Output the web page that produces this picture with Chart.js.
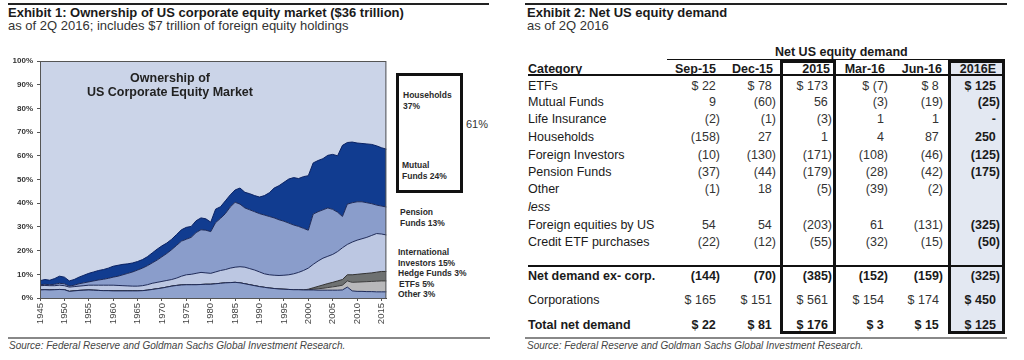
<!DOCTYPE html>
<html>
<head>
<meta charset="utf-8">
<script src="https://cdn.jsdelivr.net/npm/chart.js@4.4.1/dist/chart.umd.min.js"></script>
<style>
  body { margin: 0; width: 1024px; height: 360px; background: #fff; position: relative; overflow: hidden;
         font-family: "Liberation Sans", Arial, sans-serif; color: #1a1a1a; }
  .t { position: absolute; white-space: nowrap; line-height: 1; }
  .b { font-weight: bold; }
  .rule { position: absolute; background: #222; }
  .src { position: absolute; font-size: 10px; font-style: italic; color: #444; white-space: nowrap; line-height: 1; }
  .lab { position: absolute; font-size: 8.5px; font-weight: bold; color: #2a2a2a; line-height: 10.5px; white-space: nowrap; }
  #plot { position: absolute; left: 0; top: 50px; width: 395px; height: 285px; }
</style>
</head>
<body>

<!-- Exhibit 1 -->
<div class="rule" style="left:8px;top:3px;width:481px;height:2px;"></div>
<div class="t b" style="left:8px;top:5.5px;font-size:13px;">Exhibit 1: Ownership of US corporate equity market ($36 trillion)</div>
<div class="t" style="left:8px;top:18.5px;font-size:13px;color:#333;">as of 2Q 2016; includes $7 trillion of foreign equity holdings</div>

<div id="plot"><canvas id="area"></canvas></div>

<div class="t b" style="left:70px;width:200px;text-align:center;top:71px;font-size:12.5px;line-height:14px;color:#222;">Ownership of<br>US Corporate Equity Market</div>

<div style="position:absolute;left:396px;top:73px;width:67px;height:120px;border:3px solid #111;box-sizing:border-box;"></div>
<div class="lab" style="left:403px;top:90px;">Households<br>37%</div>
<div class="lab" style="left:402px;top:160px;">Mutual<br>Funds 24%</div>
<div class="t" style="left:466px;top:119px;font-size:11px;color:#333;">61%</div>
<div class="lab" style="left:400px;top:207px;">Pension<br>Funds 13%</div>
<div class="lab" style="left:398px;top:247px;">International<br>Investors 15%</div>
<div class="lab" style="left:398px;top:268px;">Hedge Funds 3%</div>
<div class="lab" style="left:399px;top:279px;">ETFs 5%</div>
<div class="lab" style="left:398px;top:289px;">Other 3%</div>

<div class="rule" style="left:8px;top:337px;width:482px;height:1.5px;background:#888;"></div>
<div class="src" style="left:9px;top:341px;">Source: Federal Reserve and Goldman Sachs Global Investment Research.</div>

<!-- Exhibit 2 -->
<div class="rule" style="left:525px;top:3px;width:482px;height:2px;"></div>
<div class="t b" style="left:527px;top:5.5px;font-size:13px;">Exhibit 2: Net US equity demand</div>
<div class="t" style="left:527px;top:18.5px;font-size:13px;color:#333;">as of 2Q 2016</div>

<div id="table"></div>

<div class="rule" style="left:525px;top:337px;width:482px;height:1.5px;background:#888;"></div>
<div class="src" style="left:527px;top:341px;">Source: Federal Reserve and Goldman Sachs Global Investment Research.</div>

<script>
// ---- Exhibit 1 data: share of US corporate equity market (%) ----
const years = [
  1945, 1946, 1947, 1948, 1949, 1950, 1951, 1952, 1953, 1954,
  1955, 1956, 1957, 1958, 1959, 1960, 1961, 1962, 1963, 1964,
  1965, 1966, 1967, 1968, 1969, 1970, 1971, 1972, 1973, 1974,
  1975, 1976, 1977, 1978, 1979, 1980, 1981, 1982, 1983, 1984,
  1985, 1986, 1987, 1988, 1989, 1990, 1991, 1992, 1993, 1994,
  1995, 1996, 1997, 1998, 1999, 2000, 2001, 2002, 2003, 2004,
  2005, 2006, 2007, 2008, 2009, 2010, 2011, 2012, 2013, 2014,
  2015, 2016
];

const other = [
  3.4, 3.5, 3.4, 3.5, 3.6, 3.5, 2.8, 3.0, 3.2, 3.3,
  3.4, 3.3, 3.2, 3.1, 3.1, 3.0, 3.0, 3.0, 3.0, 3.0,
  3.0, 3.1, 3.3, 3.6, 3.9, 4.2, 4.6, 5.0, 5.3, 5.5,
  5.6, 5.6, 5.6, 5.7, 5.8, 5.8, 6.0, 6.2, 6.4, 6.5,
  6.6, 6.4, 6.0, 5.6, 5.2, 4.8, 4.5, 4.2, 4.0, 3.8,
  3.7, 3.6, 3.5, 3.5, 3.4, 3.4, 3.4, 3.3, 3.3, 3.3,
  3.3, 3.3, 3.4, 4.6, 3.0, 2.8, 2.8, 2.7, 2.7, 2.6,
  2.6, 2.6
];

const etfs = [
  0, 0, 0, 0, 0, 0, 0, 0, 0, 0,
  0, 0, 0, 0, 0, 0, 0, 0, 0, 0,
  0, 0, 0, 0, 0, 0, 0, 0, 0, 0,
  0, 0, 0, 0, 0, 0, 0, 0, 0, 0,
  0, 0, 0, 0, 0, 0, 0, 0, 0, 0,
  0, 0, 0, 0, 0, 0.1, 0.3, 0.6, 0.8, 1.1,
  1.4, 1.7, 2.0, 2.6, 3.6, 3.9, 4.0, 4.2, 4.3, 4.5,
  4.6, 4.6
];

const hedgeFunds = [
  0, 0, 0, 0, 0, 0, 0, 0, 0, 0,
  0, 0, 0, 0, 0, 0, 0, 0, 0, 0,
  0, 0, 0, 0, 0, 0, 0, 0, 0, 0,
  0, 0, 0, 0, 0, 0, 0, 0, 0, 0,
  0, 0, 0, 0, 0, 0, 0, 0, 0, 0,
  0, 0, 0, 0, 0, 0.2, 0.6, 1.0, 1.4, 1.7,
  1.9, 2.2, 2.4, 2.6, 3.2, 3.3, 3.4, 3.5, 3.6, 3.8,
  4.0, 4.0
];

const international = [
  1.8, 1.8, 1.8, 1.7, 1.8, 1.7, 1.8, 1.8, 1.8, 1.9,
  2.0, 2.1, 2.2, 2.3, 2.3, 2.4, 2.3, 2.2, 2.1, 2.0,
  2.0, 2.1, 2.3, 2.6, 2.7, 2.8, 2.8, 2.8, 3.1, 3.7,
  4.2, 4.4, 4.8, 5.1, 4.8, 4.6, 5.0, 5.4, 5.6, 6.1,
  6.4, 6.8, 7.0, 6.8, 6.6, 6.2, 5.7, 5.6, 5.6, 5.7,
  5.9, 6.2, 6.7, 7.3, 8.2, 8.9, 9.9, 10.7, 11.3, 11.5,
  11.8, 12.4, 13.4, 12.8, 13.8, 14.4, 14.8, 15.2, 15.8, 16.3,
  15.8, 15.4
];

const pension = [
  0.4, 0.5, 0.4, 0.6, 0.8, 0.8, 0.4, 0.6, 1.0, 1.2,
  1.4, 1.8, 2.2, 2.5, 2.9, 3.4, 3.9, 4.6, 5.3, 6.0,
  6.8, 7.4, 8.0, 8.6, 9.4, 10.4, 11.4, 12.6, 13.8, 14.8,
  15.0, 15.6, 17.2, 18.0, 18.0, 17.6, 20.8, 22.0, 23.6, 25.8,
  27.4, 26.4, 25.0, 24.8, 24.6, 24.6, 24.8, 24.6, 24.2, 23.5,
  22.8, 21.8, 20.6, 19.4, 17.8, 16.0, 21.2, 20.8, 20.4, 20.4,
  19.0, 16.6, 13.2, 17.0, 16.6, 16.2, 15.6, 14.6, 13.4, 12.0,
  11.8, 11.8
];

const mutualFunds = [
  1.7, 2.0, 1.9, 2.4, 3.0, 2.8, 2.2, 2.4, 2.8, 3.2,
  3.6, 3.8, 4.0, 4.1, 4.3, 4.6, 4.6, 4.4, 4.0, 3.8,
  3.6, 3.6, 3.8, 4.2, 4.6, 4.6, 4.4, 4.4, 4.6, 4.8,
  5.0, 4.6, 5.0, 5.0, 4.8, 4.0, 5.7, 4.9, 5.4, 5.1,
  5.2, 6.8, 6.6, 6.8, 6.8, 7.0, 8.2, 10.0, 12.6, 14.4,
  16.4, 18.6, 20.0, 20.2, 21.8, 23.0, 21.6, 21.6, 21.6, 22.2,
  23.2, 23.8, 30.0, 26.0, 25.6, 24.8, 24.6, 24.8, 25.0, 25.0,
  24.6, 24.4
];

const households = [
  92.7, 92.2, 92.5, 91.8, 90.8, 91.2, 92.8, 92.2, 91.2, 90.4,
  89.6, 89.0, 88.4, 88.0, 87.4, 86.6, 86.2, 85.8, 85.6, 85.2,
  84.6, 83.8, 82.6, 81.0, 79.4, 78.0, 76.8, 75.2, 73.2, 71.2,
  70.2, 69.8, 67.4, 66.2, 66.6, 68.0, 62.5, 61.5, 59.0, 56.5,
  54.4, 53.6, 55.4, 56.0, 56.8, 57.4, 56.8, 55.6, 53.6, 52.6,
  51.2, 49.8, 49.2, 49.6, 48.8, 48.4, 43.0, 42.0, 41.2, 39.8,
  39.4, 40.0, 35.6, 34.4, 34.2, 34.6, 34.8, 35.0, 35.2, 35.8,
  36.6, 37.2
];

// ---- Exhibit 2 data: net US equity demand ($bn) ----
const tableCols = ['Sep-15', 'Dec-15', '2015', 'Mar-16', 'Jun-16', '2016E'];
const etfsRow        = [22, 78, 173, -7, 8, 125];
const mutualRow      = [9, -60, 56, -3, -19, -25];
const lifeRow        = [-2, -1, -3, 1, 1, 0];
const householdsRow  = [-158, 27, 1, 4, 87, 250];
const foreignInvRow  = [-10, -130, -171, -108, -46, -125];
const pensionRow     = [-37, -44, -179, -28, -42, -175];
const otherRow       = [-1, 18, -5, -39, -2, null];
const foreignEqRow   = [54, 54, -203, 61, -131, -325];
const creditEtfRow   = [-22, -12, -55, -32, -15, -50];
const netExCorpRow   = [-144, -70, -385, -152, -159, -325];
const corporationsRow = [165, 151, 561, 154, 174, 450];
const totalRow       = [22, 81, 176, 3, 15, 125];

const ink = '#1E2A58';

new Chart(document.getElementById('area'), {
    type: 'line',
    data: {
        labels: years,
        datasets: [
            { label: 'Other', data: other, backgroundColor: '#8FA2CD', borderColor: ink, borderWidth: 1, fill: 'origin' },
            { label: 'ETFs', data: etfs, backgroundColor: '#B8B8BA', borderColor: '#3c3c3c', borderWidth: 1, fill: '-1' },
            { label: 'Hedge Funds', data: hedgeFunds, backgroundColor: '#6E7171', borderColor: '#333', borderWidth: 1, fill: '-1' },
            { label: 'International Investors', data: international, backgroundColor: '#BCC7E2', borderColor: ink, borderWidth: 1, fill: '-1' },
            { label: 'Pension Funds', data: pension, backgroundColor: '#8A9DCB', borderColor: ink, borderWidth: 1, fill: '-1' },
            { label: 'Mutual Funds', data: mutualFunds, backgroundColor: '#113C90', borderColor: '#0A2263', borderWidth: 1, fill: '-1' },
            { label: 'Households', data: households, backgroundColor: '#CBD4E8', borderWidth: 0, fill: '-1' }
        ]
    },
    options: {
        responsive: true,
        maintainAspectRatio: false,
        animation: false,
        elements: { point: { radius: 0 }, line: { tension: 0 } },
        layout: { padding: { top: 11, right: 8, left: 0, bottom: 0 } },
        plugins: { legend: { display: false }, tooltip: { enabled: false } },
        scales: {
            x: {
                grid: { drawOnChartArea: false, tickLength: 3, color: '#555' },
                border: { color: '#444' },
                ticks: {
                    autoSkip: false, maxRotation: 90, minRotation: 90, padding: 2,
                    color: '#444', font: { size: 9.5, family: 'Liberation Sans' },
                    callback: (v, i) => (years[i] % 5 === 0 ? String(years[i]) : null)
                },
                afterFit: s => { s.height = 37; }
            },
            y: {
                stacked: true, min: 0, max: 100,
                grid: { drawOnChartArea: false, tickLength: 3, color: '#555' },
                border: { color: '#444' },
                ticks: {
                    stepSize: 10, padding: 4, color: '#333',
                    font: { size: 8, weight: 'bold', family: 'Liberation Sans' },
                    callback: v => v + '%'
                },
                afterFit: s => { s.width = 40; }
            }
        }
    },
    plugins: [{
        id: 'frame',
        beforeDatasetsDraw(chart) {
            const a = chart.chartArea, c = chart.ctx;
            c.save();
            c.fillStyle = '#CBD4E8';
            c.fillRect(a.left, a.top, a.right - a.left, a.bottom - a.top);
            c.restore();
        },
        afterDraw(chart) {
            const a = chart.chartArea, c = chart.ctx;
            c.save();
            c.strokeStyle = '#555';
            c.lineWidth = 1;
            c.strokeRect(a.left + 0.5, a.top + 0.5, a.right - a.left - 1, a.bottom - a.top);
            c.restore();
        }
    }]
});

// ---- table ----
const table = document.getElementById('table');
function put(html, css) {
    const d = document.createElement('div');
    d.className = 't';
    d.style.cssText = css;
    d.innerHTML = html;
    table.appendChild(d);
}
function box(css) {
    const d = document.createElement('div');
    d.style.cssText = 'position:absolute;box-sizing:border-box;' + css;
    table.appendChild(d);
}
function fmt(v, dollar) {
    if (v === null) return '';
    if (v === 0) return '-<span style="visibility:hidden">)</span>';
    const s = v < 0 ? '(' + (-v) + ')' : v + '<span style="visibility:hidden">)</span>';
    return (dollar ? '$ ' : '') + s;
}

// boxes and rules
box('left:948px;top:60px;width:57px;height:274px;background:#E3E8F2;border:3px solid #111;');
box('left:780px;top:60px;width:56px;height:274px;border:3px solid #111;');
box('left:667px;top:59px;width:338px;height:1px;background:#111;');
box('left:528px;top:74px;width:477px;height:2px;background:#111;');
box('left:528px;top:265px;width:477px;height:2px;background:#111;');

put('Net US equity demand', 'left:775px;width:125px;text-align:center;top:46px;font-size:12.5px;font-weight:bold;');
put('Category', 'left:528px;top:62.5px;font-size:12.5px;font-weight:bold;');

const colRight = [720, 776, 832, 888, 943, 1000];
const headRight = [716, 773, 830, 885, 942, 996];
tableCols.forEach((c, i) => {
    put(c, 'right:' + (1024 - headRight[i]) + 'px;top:62.5px;font-size:12.5px;font-weight:bold;');
});

const tableRows = [
    ['ETFs', etfsRow, 86, true, false],
    ['Mutual Funds', mutualRow, 102, false, false],
    ['Life Insurance', lifeRow, 119.5, false, false],
    ['Households', householdsRow, 137, false, false],
    ['Foreign Investors', foreignInvRow, 155, false, false],
    ['Pension Funds', pensionRow, 172.5, false, false],
    ['Other', otherRow, 189.5, false, false],
    ['Foreign equities by US', foreignEqRow, 225.5, false, false],
    ['Credit ETF purchases', creditEtfRow, 242.5, false, false],
    ['Net demand ex- corp.', netExCorpRow, 276, false, true],
    ['Corporations', corporationsRow, 300, true, false],
    ['Total net demand', totalRow, 325, true, true]
];

tableRows.forEach(([label, vals, y, dollar, bold]) => {
    const top = (y - 6.25) + 'px';
    put(label, 'left:528px;top:' + top + ';font-size:12.5px;' + (bold ? 'font-weight:bold;' : ''));
    vals.forEach((v, i) => {
        const b = bold || i === 5;
        put(fmt(v, dollar), 'right:' + (1024 - colRight[i]) + 'px;top:' + top + ';font-size:12.5px;' +
            (b ? 'font-weight:bold;' : 'color:#333;'));
    });
});
put('less', 'left:528px;top:200.75px;font-size:12.5px;font-style:italic;');
</script>
</body>
</html>
